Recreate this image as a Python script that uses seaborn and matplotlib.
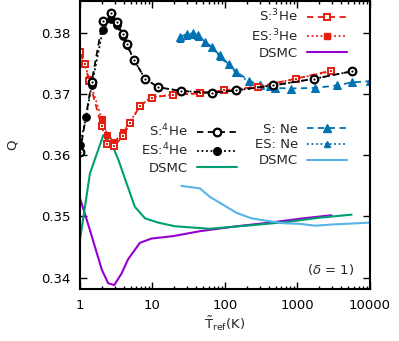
import numpy as np
import pandas as pd
import seaborn as sns
import matplotlib.pyplot as plt
from matplotlib.lines import Line2D
from matplotlib.ticker import FixedLocator, NullFormatter, NullLocator

# He-4 (S = open circles, ES = filled circles)
t_he4_s = [1, 1.45, 2.06, 2.67, 3.2, 3.87, 4.4, 5.6, 7.9, 12, 25, 67, 144, 464, 1720, 5600]
q_he4_s = [0.3605, 0.3720, 0.3819, 0.3833, 0.3817, 0.3798, 0.3782, 0.3755, 0.3725, 0.3711,
           0.3705, 0.3702, 0.3706, 0.3714, 0.3725, 0.3737]
t_he4_es = [1, 1.21, 1.45, 2.06, 2.67, 3.2, 3.87, 4.4, 5.6, 7.9, 12, 25, 67, 144, 464, 1720, 5600]
q_he4_es = [0.3616, 0.3662, 0.3714, 0.3804, 0.3823, 0.3812, 0.3795, 0.3780, 0.3755, 0.3725,
            0.3711, 0.3705, 0.3702, 0.3706, 0.3714, 0.3725, 0.3737]

# He-3 (S = open squares, ES = filled squares)
t_he3 = [1, 1.17, 1.33, 1.99, 2.38, 2.97, 3.96, 4.9, 6.7, 9.7, 19, 45, 98, 290, 950, 2900]
q_he3_s = [0.3768, 0.3749, 0.3722, 0.3647, 0.3618, 0.3615, 0.3632, 0.3652, 0.3681, 0.3694,
           0.3699, 0.3701, 0.3706, 0.3712, 0.3725, 0.3738]
q_he3_es = [0.3766, 0.3749, 0.3725, 0.3660, 0.3633, 0.3622, 0.3638, 0.3654, 0.3681, 0.3695,
            0.3699, 0.3701, 0.3706, 0.3712, 0.3725, 0.3737]

# Ne
t_ne_s = [24, 29.6, 36.6, 43, 53, 66, 85, 112, 144, 215, 300, 490, 805, 1750, 3500, 5600, 10000]
q_ne_s = [0.3793, 0.3798, 0.3799, 0.3796, 0.3785, 0.3777, 0.3763, 0.3749, 0.3736, 0.3722,
          0.3714, 0.3710, 0.3709, 0.3710, 0.3714, 0.3719, 0.3721]
t_ne_es = [24, 29.6, 36.6, 43, 53, 66, 85, 112, 144, 215, 300, 400]
q_ne_es = [0.3790, 0.3795, 0.3796, 0.3793, 0.3783, 0.3775, 0.3761, 0.3747, 0.3734, 0.3720,
           0.3716, 0.3712]

# DSMC curves
t_dsmc3 = [1, 1.37, 2, 2.45, 2.97, 3.75, 4.6, 6.7, 9.7, 19.4, 45, 144, 416, 1200, 2950]
q_dsmc3 = [0.3530, 0.3478, 0.3413, 0.3391, 0.3388, 0.3407, 0.3430, 0.3457, 0.3464, 0.3468,
           0.3476, 0.3484, 0.3490, 0.3497, 0.3502]
t_dsmc4 = [1, 1.37, 2.1, 2.73, 3.4, 4.4, 5.7, 7.9, 12, 20.5, 62, 245, 710, 2000, 5600]
q_dsmc4 = [0.3462, 0.3570, 0.3633, 0.3619, 0.3592, 0.3554, 0.3516, 0.3497, 0.3490, 0.3484,
           0.3480, 0.3486, 0.3491, 0.3498, 0.3503]
t_dsmcne = [25, 45, 62, 95, 144, 233, 375, 640, 1080, 1750, 3100, 10000]
q_dsmcne = [0.3550, 0.3546, 0.3532, 0.3519, 0.3506, 0.3497, 0.3493, 0.3489, 0.3488, 0.3485,
            0.3487, 0.3490]

RED = '#e51e10'
BLUE = '#0072b2'
PURPLE = '#9400d3'
GREEN = '#009e73'
LBLUE = '#56b4e9'

DASH = (0, (3.5, 2.5))
DOT = (0, (1, 1.5))

sns.set_style('ticks')
plt.rcParams['font.family'] = ['DejaVu Sans']
plt.rcParams['font.size'] = 9.5

fig = plt.figure(figsize=(3.99, 3.41), dpi=100)
ax = fig.add_axes([0.2005, 0.1525, 0.7265, 0.846])

# DSMC lines
sns.lineplot(x=t_dsmc3, y=q_dsmc3, color=PURPLE, lw=1.5, ax=ax)
sns.lineplot(x=t_dsmc4, y=q_dsmc4, color=GREEN, lw=1.5, ax=ax)
sns.lineplot(x=t_dsmcne, y=q_dsmcne, color=LBLUE, lw=1.5, ax=ax)

# Ne
sns.lineplot(x=t_ne_es, y=q_ne_es, color=BLUE, lw=1.3, linestyle=DOT,
             marker='^', markersize=4.5, mec=BLUE, ax=ax)
sns.lineplot(x=t_ne_s, y=q_ne_s, color=BLUE, lw=1.3, linestyle=DASH,
             marker='^', markersize=6, mec=BLUE, ax=ax)

# He-3
sns.lineplot(x=t_he3, y=q_he3_es, color=RED, lw=1.3, linestyle=DOT,
             marker='s', markersize=5, mec=RED, ax=ax)
sns.lineplot(x=t_he3, y=q_he3_s, color=RED, lw=1.3, linestyle=DASH,
             marker='s', markersize=5, mfc='white', mec=RED, mew=1.4, ax=ax)
sns.lineplot(x=t_he3, y=q_he3_s, color=RED, linestyle='none',
             marker='s', markersize=1.5, mew=0, ax=ax)

# He-4
sns.lineplot(x=t_he4_es, y=q_he4_es, color='black', lw=1.3, linestyle=DOT,
             marker='o', markersize=5.5, mec='black', ax=ax)
sns.lineplot(x=t_he4_s, y=q_he4_s, color='black', lw=1.3, linestyle=DASH,
             marker='o', markersize=5.5, mfc='white', mec='black', mew=1.6, ax=ax)
sns.lineplot(x=t_he4_s, y=q_he4_s, color='black', linestyle='none',
             marker='o', markersize=1.6, mew=0, ax=ax)

ax.set_xscale('log')
ax.set_xlim(1, 10000)
ax.set_ylim(0.33816, 0.38527)
ax.xaxis.set_major_locator(FixedLocator([1, 10, 100, 1000, 10000]))
ax.set_xticklabels(['1', '10', '100', '1000', '10000'])
ax.xaxis.set_minor_formatter(NullFormatter())
ax.set_yticks([0.34, 0.35, 0.36, 0.37, 0.38])
ax.set_yticklabels(['0.34', '0.35', '0.36', '0.37', '0.38'])
ax.yaxis.set_minor_locator(NullLocator())
ax.tick_params(which='both', direction='in', top=True, right=True, width=1, colors='black')
ax.tick_params(which='major', length=5)
ax.tick_params(which='minor', length=2.5)
ax.tick_params(axis='x', pad=7)
ax.tick_params(axis='y', pad=7)
for s in ax.spines.values():
    s.set_linewidth(1.5)
    s.set_color('black')

ax.set_xlabel(r'$\tilde{\mathrm{T}}_{\mathrm{ref}}$(K)', labelpad=2)
ax.set_ylabel('Q', labelpad=16)


def make_legend(handles, labels, anchor):
    leg = ax.legend(handles, labels, loc='upper right', bbox_to_anchor=anchor,
                    frameon=False, markerfirst=False, handlelength=3.0,
                    handletextpad=0.7, labelspacing=0.22, borderpad=0,
                    borderaxespad=0, fontsize=9.5)
    for col in leg._legend_handle_box.get_children():
        col.align = 'right'
    return leg


h3 = [Line2D([], [], color=RED, lw=1.3, ls=DASH, marker='s', ms=5, mfc='white', mew=1.4),
      Line2D([], [], color=RED, lw=1.3, ls=DOT, marker='s', ms=5),
      Line2D([], [], color=PURPLE, lw=1.5)]
h4 = [Line2D([], [], color='black', lw=1.3, ls=DASH, marker='o', ms=5.5, mfc='white', mew=1.6),
      Line2D([], [], color='black', lw=1.3, ls=DOT, marker='o', ms=5.5),
      Line2D([], [], color=GREEN, lw=1.5)]
hn = [Line2D([], [], color=BLUE, lw=1.3, ls=DASH, marker='^', ms=6),
      Line2D([], [], color=BLUE, lw=1.3, ls=DOT, marker='^', ms=4.5),
      Line2D([], [], color=LBLUE, lw=1.5)]

leg1 = make_legend(h3, [r'S:$^3$He', r'ES:$^3$He', 'DSMC'], (0.921, 0.975))
ax.add_artist(leg1)
leg2 = make_legend(h4, [r'S:$^4$He', r'ES:$^4$He', 'DSMC'], (0.541, 0.577))
ax.add_artist(leg2)
leg3 = make_legend(hn, ['S: Ne', 'ES: Ne', 'DSMC'], (0.921, 0.577))

ax.text(0.945, 0.066, r'($\delta$ = 1)', transform=ax.transAxes, ha='right', va='center',
        fontsize=9.5)

fig.savefig('out.png', dpi=100)
